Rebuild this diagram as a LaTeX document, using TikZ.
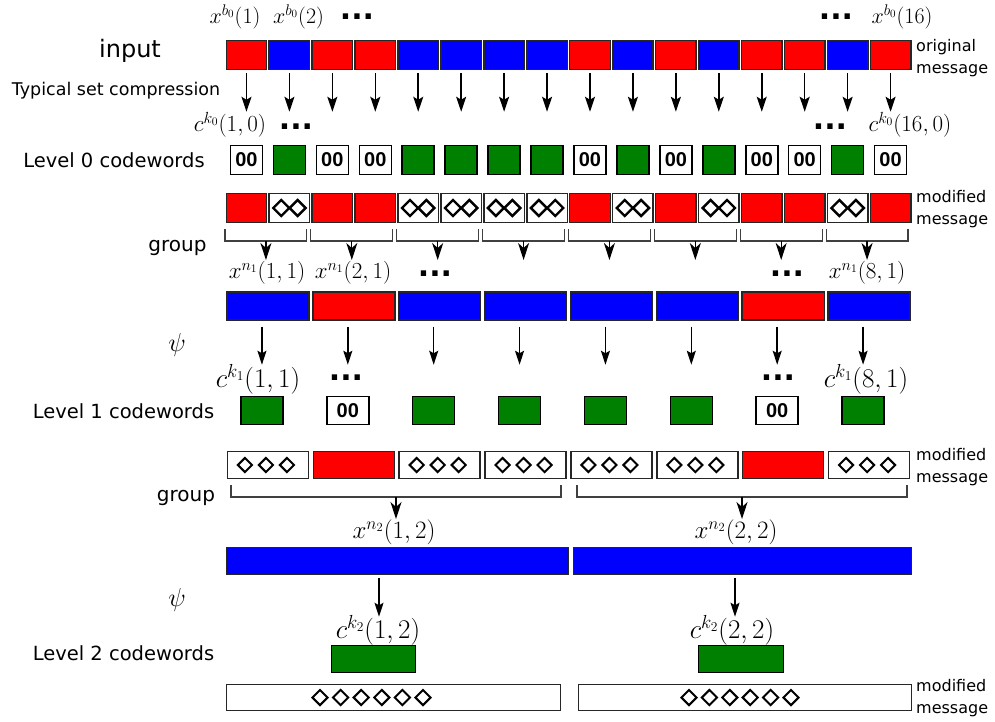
\documentclass[tikz,border=0pt]{standalone}
\usepackage{fix-cm}
\usepackage[no-math]{fontspec}
\setmainfont{DejaVu Sans}
\newfontfamily\zzfont{Liberation Sans}
\usetikzlibrary{arrows.meta,shapes.geometric}
\definecolor{cR}{HTML}{FF0000}
\definecolor{cB}{HTML}{0000FF}
\definecolor{cG}{HTML}{008000}
\newcommand\fsz[1]{\fontsize{#1}{#1}\selectfont}
\def\lettz{z}
\newcommand\cwtxtz{00}
\newcommand\cwtxtg{}
\begin{document}
\begin{tikzpicture}[x=1pt,y=-1pt,
  inbox/.style={draw=black!85, line width=1.4pt, minimum width=40.5pt, minimum height=29pt, inner sep=0pt},
  cwg/.style={draw=black, line width=1.5pt, fill=cG, minimum width=32pt, minimum height=29pt, inner sep=0pt},
  cwz/.style={cwg, fill=white, font=\zzfont\bfseries\fsz{20}},
  dmd/.style={diamond, draw=black, line width=2pt, fill=white, inner sep=0pt, minimum size=14pt},
  arr/.style={-{Stealth[length=15pt,width=10pt,inset=3pt]}, line width=1.5pt},
  arr1/.style={-{Stealth[length=14pt,width=9pt,inset=2.5pt]}, line width=1.4pt},
  garr/.style={-{Stealth[length=17pt,width=11pt,inset=5pt]}, line width=1.2pt},
  br/.style={draw=black!75, line width=1.1pt},
  side/.style={font=\fontsize{16}{22}\selectfont, align=left, anchor=west, inner sep=0pt},
  lft/.style={inner sep=0pt},
  ml/.style={inner sep=0pt},
  dots/.style={font=\bfseries\fsz{30}, inner sep=0pt}]
\useasboundingbox (0,0) rectangle (995,721);

% ---------- level 0 ----------
\foreach \c/\k [count=\i from 0] in {cR/z,cB/g,cR/z,cR/z,cB/g,cB/g,cB/g,cB/g,cR/z,cB/g,cR/z,cB/g,cR/z,cR/z,cB/g,cR/z} {
  \pgfmathsetmacro\xc{225+42.94*(\i+0.5)}
  \node[inbox, fill=\c] (in\i) at (\xc,55) {};
  \node[cw\k] (cw\i) at (\xc,160) {\csname cwtxt\k\endcsname};
  \draw[arr] ([yshift=-3pt]in\i.south) -- ([yshift=33pt]cw\i.north);
  \ifx\k\lettz
    \node[inbox, fill=cR] (m\i) at (\xc,208) {};
  \else
    \node[inbox, fill=white] (m\i) at (\xc,208) {};
    \node[dmd, minimum size=17pt, line width=2.4pt] (m\i-a) at ([xshift=-8.2pt]m\i.center) {};
    \node[dmd, minimum size=17pt, line width=2.4pt] (m\i-b) at ([xshift=8.2pt]m\i.center) {};
  \fi
}

% ---------- level 1 ----------
\foreach \c/\k [count=\j from 0] in {cB/g,cR/z,cB/g,cB/g,cB/g,cB/g,cR/z,cB/g} {
  \pgfmathsetmacro\xl{225+85.875*\j}
  \pgfmathsetmacro\xr{\xl+85.875-4}
  \pgfmathsetmacro\xm{(\xl+\xr)/2}
  \pgfmathsetmacro\xc{225+85.875*(\j+0.5)}
  \draw[br] (\xl,229) -- (\xl,241) -- (\xr,241) -- (\xr,229);
  \coordinate (g\j) at (\xm,241);
  \draw[garr] (g\j) -- ++(0,19);
  \node[inbox, minimum width=82pt, minimum height=28pt, fill=\c] (L\j) at (\xc,306) {};
  \node[cw\k, minimum width=42pt, minimum height=28pt] (k\j) at (\xc-6,410.5) {\csname cwtxt\k\endcsname};
  \draw[arr1] ([xshift=-6pt,yshift=-6pt]L\j.south) -- ([yshift=31pt]k\j.north);
  \ifx\k\lettz
    \node[inbox, minimum width=81pt, minimum height=27pt, fill=cR] (n\j) at (\xc,465) {};
  \else
    \node[inbox, minimum width=81pt, minimum height=27pt, fill=white] (n\j) at (\xc,465) {};
    \foreach \d [count=\e] in {-1,0,1}
      \node[dmd, minimum size=15pt, line width=2pt] (n\j-\e) at ([xshift=\d*21pt-2pt]n\j.center) {};
  \fi
}

% ---------- level 2 ----------
\draw[br] (231,485) -- (231,497) -- (561,497) -- (561,485);
\draw[br] (577,485) -- (577,497) -- (907,497) -- (907,485);
\coordinate (h0) at (396,497);
\coordinate (h1) at (742,497);
\draw[garr] (h0) -- ++(0,22);
\draw[garr] (h1) -- ++(0,22);
\node[inbox, minimum width=342pt, minimum height=27pt, fill=cB] (P0) at (397.5,561) {};
\node[inbox, minimum width=338pt, minimum height=27pt, fill=cB] (P1) at (742.5,561) {};
\node[cwg, minimum width=84pt, minimum height=27pt] (Q0) at (373.5,659) {};
\node[cwg, minimum width=85pt, minimum height=27pt] (Q1) at (741,659) {};
\draw[arr1] ([xshift=-18.5pt,yshift=-3pt]P0.south) -- ([xshift=5.5pt,yshift=28pt]Q0.north);
\draw[arr1] ([xshift=-7.5pt,yshift=-3pt]P1.south) -- ([xshift=-6pt,yshift=28pt]Q1.north);
\node[inbox, minimum width=334pt, minimum height=26pt, fill=white] (F0) at (393.5,697.5) {};
\node[inbox, minimum width=333pt, minimum height=26pt, fill=white] (F1) at (745,697.5) {};
\foreach \e in {0,...,5} {
  \node[dmd, minimum size=16pt, line width=2pt] (F0-\e) at (320+20.6*\e,697.5) {};
  \node[dmd, minimum size=16pt, line width=2pt] (F1-\e) at (689+20.4*\e,697.5) {};
}

% ---------- left labels ----------
\node[lft, font=\fsz{24}] (tinput) at (130,51) {input};
\node[lft, font=\fsz{17.5}] (ttsc) at (116,91) {Typical set compression};
\node[lft, font=\fsz{19.5}] (tl0) at (114,160) {Level 0 codewords};
\node[lft, font=\fsz{20}] (tg1) at (177.5,248) {group};
\node[lft, font=\fsz{26}] (tpsi1) at (177,345) {$\psi$};
\node[lft, font=\fsz{19.5}] (tl1) at (123.5,411) {Level 1 codewords};
\node[lft, font=\fsz{20}] (tg2) at (186,498) {group};
\node[lft, font=\fsz{26}] (tpsi2) at (177,600) {$\psi$};
\node[lft, font=\fsz{19.5}] (tl2) at (123.5,653) {Level 2 codewords};

% ---------- right labels ----------
\node[side] (r0) at (916,58) {original\\message};
\node[side] (r1) at (916,209) {modified\\message};
\node[side] (r2) at (916,467.5) {modified\\message};
\node[side] (r3) at (916,698) {modified\\message};

% ---------- math labels ----------
\node[ml, font=\fsz{22}] (xb1) at (235,17) {$x^{b_0}(1)$};
\node[ml, font=\fsz{22}] (xb2) at (298.5,17) {$x^{b_0}(2)$};
\node[dots] (d1) at (357,17) {...};
\node[dots] (d2) at (836,17) {...};
\node[ml, font=\fsz{22}] (xb16) at (902,17) {$x^{b_0}(16)$};

\node[ml, font=\fsz{23}] (ck01) at (230,125) {$c^{k_0}(1,0)$};
\node[dots] (d3) at (296,127) {...};
\node[dots] (d4) at (830,127) {...};
\node[ml, font=\fsz{23}] (ck016) at (910,125) {$c^{k_0}(16,0)$};

\node[ml, font=\fsz{23}] (xn11) at (267,273) {$x^{n_1}(1,1)$};
\node[ml, font=\fsz{23}] (xn12) at (353,273) {$x^{n_1}(2,1)$};
\node[dots] (d5) at (435,274) {...};
\node[dots] (d6) at (787,274) {...};
\node[ml, font=\fsz{23}] (xn18) at (867,273) {$x^{n_1}(8,1)$};

\node[ml, font=\fsz{27}] (ck11) at (258,379) {$c^{k_1}(1,1)$};
\node[dots] (d7) at (346,378) {...};
\node[dots] (d8) at (778,378) {...};
\node[ml, font=\fsz{27}] (ck18) at (866,379) {$c^{k_1}(8,1)$};

\node[ml, font=\fsz{25}] (xn21) at (394,532) {$x^{n_2}(1,2)$};
\node[ml, font=\fsz{25}] (xn22) at (736,532) {$x^{n_2}(2,2)$};
\node[ml, font=\fsz{27}] (ck21) at (378,630) {$c^{k_2}(1,2)$};
\node[ml, font=\fsz{27}] (ck22) at (732,630) {$c^{k_2}(2,2)$};
\end{tikzpicture}
\end{document}
